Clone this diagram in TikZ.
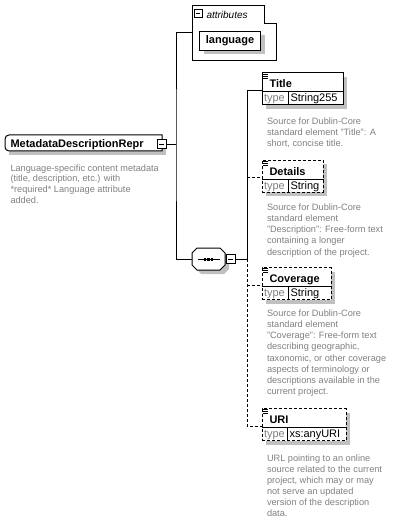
\documentclass[tikz,border=0pt]{standalone}
\usepackage{fontspec}
\setmainfont{Liberation Sans}
\usetikzlibrary{shadows}

\definecolor{shadegray}{RGB}{192,192,192}
\definecolor{notegray}{RGB}{128,128,128}

\tikzset{
  boxshadow/.style={drop shadow={shadow xshift=4pt, shadow yshift=-4pt, fill=shadegray, opacity=1}},
  elem/.style={draw, fill=white, inner sep=0pt, anchor=north west, minimum height=32pt, boxshadow},
  optline/.style={dash pattern=on 3pt off 2pt},
  optelem/.style={elem, optline},
  toggle/.style={draw, fill=white, minimum size=9pt, inner sep=0pt,
    path picture={\draw ([xshift=2pt]path picture bounding box.west) -- ([xshift=-2pt]path picture bounding box.east);}},
  ename/.style={anchor=base west, inner sep=0pt, font=\bfseries\fontsize{11}{13}\selectfont},
  tlabel/.style={anchor=base west, inner sep=0pt, text=notegray, font=\fontsize{11}{13}\selectfont},
  tvalue/.style={anchor=base west, inner sep=0pt, font=\fontsize{11}{13}\selectfont},
  note/.style={anchor=north west, inner sep=0pt, align=left, text=notegray, font=\fontsize{9.2}{11.1}\selectfont},
}

% name row, type row and icon of one element box
\newcommand{\elembody}[4]{%
  \draw ([yshift=-19.5pt]#1.north west) -- ([yshift=-19.5pt]#1.north east);
  \draw ([shift={(#3,-19.5pt)}]#1.north west) -- ([xshift=#3]#1.south west);
  \foreach \k in {0,1,2}
    \draw[line width=0.7pt] ([xshift=1.5pt,yshift=-1.5pt-2pt*\k]#1.north west) -- ++(5,0);
  \node[ename] at ([shift={(7.5pt,-15.5pt)}]#1.north west) {#2};
  \node[tlabel] at ([shift={(2pt,-29.5pt)}]#1.north west) {type};
  \node[tvalue] at ([shift={(#3+2pt,-29.5pt)}]#1.north west) {#4};
}

\begin{document}
\begin{tikzpicture}[x=1pt,y=-1pt,line width=1pt]
  \useasboundingbox (0,0) rectangle (402,521);

  % root element
  \fill[shadegray] (9,139) rectangle (166,155);
  \draw[fill=white] (90,135) [rounded corners=4pt] -- (5,135) -- (5,151) -- (90,151)
    [sharp corners] -- (162,151) -- (162,135) -- cycle;
  \node[ename] (root) at (10,148) {MetadataDescriptionRepr};
  \node[toggle] (rootmin) at (161.5,144.5) {};
  \node[note, font=\fontsize{9.2}{10.7}\selectfont] (rootnote) at (10,164)
    {Language-specific content metadata\\(title, description, etc.) with\\*required* Language attribute\\added.};

  % attributes
  \draw (192,6) -- (264,6) -- (264,24) -- (276,24) -- (276,61) -- (192,61) -- cycle;
  \node[toggle, minimum size=8pt] (attrmin) at (198,14) {};
  \node[anchor=base west, inner sep=0pt, font=\itshape\fontsize{10}{12}\selectfont] (attrlabel) at (206,18.5) {attributes};
  \node[elem, minimum width=61pt, minimum height=19pt, font=\bfseries\fontsize{11}{13}\selectfont] (lang) at (199,31) {language};
  \coordinate (attrs) at (192,33);

  % sequence
  \node[minimum width=33pt, minimum height=22pt, inner sep=0pt] (seq) at (208.5,259) {};
  \fill[shadegray, shift={(212.5,263)}] (-11.5,-11) -- (11.5,-11) -- (16.5,-6) -- (16.5,6)
    -- (11.5,11) -- (-11.5,11) -- (-16.5,6) -- (-16.5,-6) -- cycle;
  \draw[fill=white, shift={(208.5,259)}] (-11.5,-11) -- (11.5,-11) -- (16.5,-6) -- (16.5,6)
    -- (11.5,11) -- (-11.5,11) -- (-16.5,6) -- (-16.5,-6) -- cycle;
  \draw ([xshift=6pt]seq.west) -- ([xshift=-6pt]seq.east);
  \foreach \dx in {-3.6,0,3.6}
    \fill ([xshift=\dx pt]seq.center) +(-1.2,-1.5) rectangle +(1.2,1.5);
  \node[toggle] (seqmin) at (230.5,259) {};

  \coordinate (rootbus) at (176,144.5);
  \coordinate (kidbus) at (247,259);
  \draw (rootmin.east) -- (rootbus);
  \draw (attrs) -| (rootbus) |- (seq.west);
  \draw (seqmin.east) -- (kidbus);

  % child elements
  \node[elem, minimum width=81pt] (title) at (261.5,72.5) {};
  \node[optelem, minimum width=61pt] (details) at (261.5,160) {};
  \node[optelem, minimum width=69pt] (coverage) at (261.5,267) {};
  \node[optelem, minimum width=84pt] (uri) at (261.5,408) {};
  \elembody{title}{Title}{26.5pt}{String255}
  \elembody{details}{Details}{26.5pt}{String}
  \elembody{coverage}{Coverage}{26.5pt}{String}
  \elembody{uri}{URI}{25.5pt}{xs:anyURI}

  \coordinate (titlein) at ([yshift=-18.5pt]title.north west);
  \coordinate (detailsin) at ([yshift=-18pt]details.north west);
  \coordinate (coveragein) at ([yshift=-18pt]coverage.north west);
  \coordinate (uriin) at ([yshift=-18pt]uri.north west);
  \draw (titlein) -| (kidbus);
  \draw[optline] (kidbus) |- (uriin);
  \draw[optline] (kidbus |- detailsin) -- (detailsin);
  \draw[optline] (kidbus |- coveragein) -- (coveragein);

  \node[note] (titlenote) at (266.5,117)
    {Source for Dublin-Core\\standard element "Title": A\\short, concise title.};
  \node[note] (detailsnote) at (266.5,203.5)
    {Source for Dublin-Core\\standard element\\"Description": Free-form text\\containing a longer\\description of the project.};
  \node[note] (coveragenote) at (266.5,309.5)
    {Source for Dublin-Core\\standard element\\"Coverage": Free-form text\\describing geographic,\\taxonomic, or other coverage\\aspects of terminology or\\descriptions available in the\\current project.};
  \node[note] (urinote) at (266.5,454)
    {URL pointing to an online\\source related to the current\\project, which may or may\\not serve an updated\\version of the description\\data.};
\end{tikzpicture}
\end{document}
